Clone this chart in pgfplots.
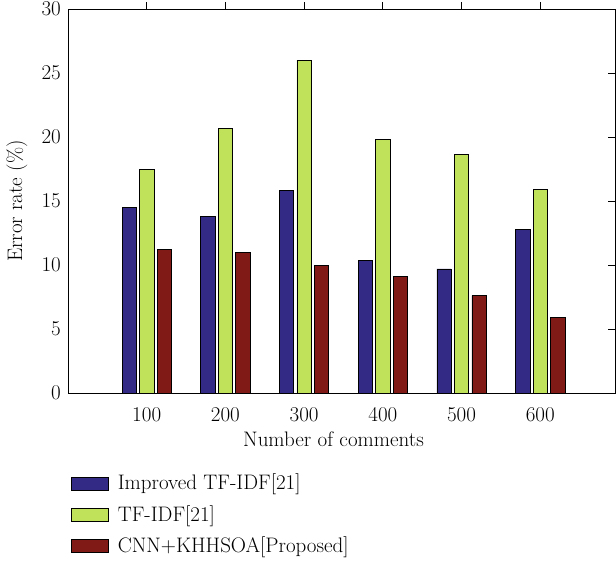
\documentclass[border=0pt]{standalone}
\usepackage{fontspec}
\usepackage{pgfplots}
\pgfplotsset{compat=1.18}

\definecolor{cBlue}{HTML}{332A86}
\definecolor{cGreen}{HTML}{C0E25A}
\definecolor{cRed}{HTML}{7F1A17}

\newcommand{\chartfont}{\fontsize{21}{25}\selectfont}

\begin{document}
\chartfont
\begin{tikzpicture}
\useasboundingbox (0pt,0pt) rectangle (616pt,-562pt);
\begin{axis}[
  at={(68pt,-9pt)}, anchor=north west,
  scale only axis,
  width=547pt, height=384pt,
  xmin=0, xmax=6.95,
  ymin=0, ymax=30,
  /pgf/number format/assume math mode=true,
  xtick={1,2,3,4,5,6},
  xticklabels={100,200,300,400,500,600},
  ytick={0,5,10,15,20,25,30},
  xtick pos=upper, xticklabel pos=lower,
  ytick pos=right, yticklabel pos=left,
  tick align=inside,
  major tick length=7pt,
  axis line style={line width=0.9pt},
  every tick/.style={black, line width=0.9pt},
  tick label style={font=\chartfont},
  label style={font=\chartfont},
  xlabel={Number of comments},
  ylabel={Error rate (\%)},
  ylabel style={at={(rel axis cs:0,0.5)}, anchor=center, yshift=51pt},
  xlabel style={yshift=4pt, xshift=-8pt},
  ybar, bar width=14.3pt,
  legend style={at={(0,-0.2)}, anchor=north west, draw=none, fill=none,
    font=\chartfont, row sep=8.5pt,
    legend cell align=left},
  legend image code/.code={\draw[#1] (0pt,-6.5pt) rectangle (37pt,6.5pt);
    \path (44pt,0pt);},
]
\addplot[fill=cBlue, draw=black, line width=0.6pt, bar shift=-17.5pt]
  coordinates {(1,14.5) (2,13.8) (3,15.8) (4,10.35) (5,9.7) (6,12.8)};
\addplot[fill=cGreen, draw=black, line width=0.6pt, bar shift=0pt]
  coordinates {(1,17.5) (2,20.7) (3,26.0) (4,19.8) (5,18.65) (6,15.9)};
\addplot[fill=cRed, draw=black, line width=0.6pt, bar shift=17.5pt]
  coordinates {(1,11.2) (2,11.0) (3,10.0) (4,9.1) (5,7.6) (6,5.9)};
\legend{Improved TF-IDF[21], TF-IDF[21], CNN+KHHSOA[Proposed]}
\end{axis}
\end{tikzpicture}
\end{document}
